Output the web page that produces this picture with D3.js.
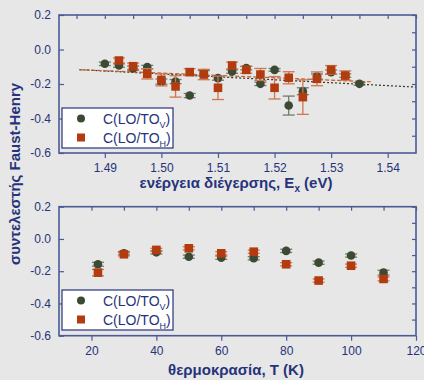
<!DOCTYPE html>
<html>
<head>
<meta charset="utf-8">
<script src="https://cdn.jsdelivr.net/npm/d3@7"></script>
<style>
  body { margin: 0; background: #e7e7e7; }
  svg { display: block; font-family: "Liberation Sans", Arial, sans-serif; }
</style>
</head>
<body>
<div id="chart"></div>
<script>
// top panel: Faust-Henry coefficient vs excitation energy
const energyV = [1.490, 1.4925, 1.495, 1.4975, 1.500, 1.5025, 1.505, 1.5075, 1.510, 1.5125, 1.515, 1.5175, 1.520, 1.5225, 1.525, 1.5275, 1.530, 1.5325, 1.535];
const coefV = [-0.083, -0.093, -0.108, -0.102, -0.186, -0.186, -0.267, -0.137, -0.166, -0.128, -0.108, -0.199, -0.118, -0.325, -0.242, -0.157, -0.131, -0.151, -0.199];
const errV = [0.01, 0.01, 0.012, 0.01, 0.015, 0.012, 0.012, 0.015, 0.012, 0.01, 0.01, 0.01, 0.008, 0.055, 0.02, 0.015, 0.012, 0.01, 0.008];

const energyH = [1.4925, 1.495, 1.4975, 1.500, 1.5025, 1.505, 1.5075, 1.510, 1.5125, 1.515, 1.5175, 1.520, 1.5225, 1.525, 1.5275, 1.530, 1.5325];
const coefH = [-0.064, -0.097, -0.141, -0.176, -0.214, -0.131, -0.145, -0.222, -0.093, -0.118, -0.145, -0.222, -0.164, -0.276, -0.170, -0.118, -0.151];
const errH = [0.015, 0.018, 0.03, 0.035, 0.062, 0.02, 0.03, 0.068, 0.02, 0.02, 0.035, 0.065, 0.035, 0.1, 0.04, 0.025, 0.027];

// linear fit lines (end points)
const fitV = [[1.4855, -0.117], [1.545, -0.218]];
const fitH = [[1.4855, -0.117], [1.537, -0.187]];

// bottom panel: coefficient vs temperature
const temps = [22, 30, 40, 50, 60, 70, 80, 90, 100, 110];
const coefVT = [-0.157, -0.089, -0.083, -0.110, -0.116, -0.120, -0.074, -0.147, -0.103, -0.209];
const coefHT = [-0.209, -0.095, -0.068, -0.058, -0.089, -0.079, -0.157, -0.258, -0.166, -0.248];
const errVT = [0.012, 0.01, 0.01, 0.01, 0.01, 0.01, 0.01, 0.01, 0.01, 0.015];
const errHT = [0.02, 0.01, 0.01, 0.01, 0.01, 0.01, 0.01, 0.01, 0.01, 0.012];

const yTicks = [0.2, 0.0, -0.2, -0.4, -0.6];
const energyTicks = [1.49, 1.50, 1.51, 1.52, 1.53, 1.54];
const tempTicks = [20, 40, 60, 80, 100, 120];

const navy = "#26337a";
const axisCol = "#4a5a96";
const green = "#3b4a33";
const red = "#b23c0f";

const W = 424, H = 380;
const svg = d3.select("#chart").append("svg").attr("width", W).attr("height", H);

svg.append("rect").attr("width", W).attr("height", H).attr("fill", "#e7e7e7");

const left = 59, right = 416;

function panel(opts) {
  const x = d3.scaleLinear().domain(opts.xDomain).range([left, right]);
  const y = d3.scaleLinear().domain([-0.6, 0.2]).range([opts.bottom, opts.top]);
  const g = svg.append("g");

  // fit lines
  (opts.fits || []).forEach(f => {
    g.append("path")
      .attr("d", d3.line().x(d => x(d[0])).y(d => y(d[1]))(f.pts))
      .attr("stroke", f.color).attr("stroke-width", 1.2)
      .attr("stroke-dasharray", f.dash).attr("fill", "none");
  });

  // frame
  g.append("rect")
    .attr("x", left).attr("y", opts.top)
    .attr("width", right - left).attr("height", opts.bottom - opts.top)
    .attr("fill", "none").attr("stroke", axisCol).attr("stroke-width", 1.6);

  // bottom axis (outward ticks)
  const bx = g.append("g").attr("transform", `translate(0,${opts.bottom})`);
  bx.call(d3.axisBottom(x).tickValues(opts.minorX).tickSize(3).tickFormat(""));
  bx.call(d3.axisBottom(x).tickValues(opts.xTicks).tickSize(5).tickFormat(opts.fmt));
  bx.select(".domain").remove();
  bx.selectAll("line").attr("stroke", axisCol).attr("stroke-width", 1.2);
  bx.selectAll("text").attr("fill", navy).attr("font-size", 12).attr("dy", "0.95em");

  // top axis (inward ticks)
  const tx = g.append("g").attr("transform", `translate(0,${opts.top})`);
  tx.call(d3.axisBottom(x).tickValues(opts.minorX.concat(opts.xTicks)).tickSize(4).tickFormat(""));
  tx.select(".domain").remove();
  tx.selectAll("line").attr("stroke", axisCol).attr("stroke-width", 1.2);

  // left axis (inward ticks)
  const ly = g.append("g").attr("transform", `translate(${left},0)`);
  ly.call(d3.axisRight(y).tickValues([0.1, -0.1, -0.3, -0.5]).tickSize(3).tickFormat(""));
  ly.call(d3.axisRight(y).tickValues(yTicks).tickSize(5).tickFormat(""));
  ly.select(".domain").remove();
  ly.selectAll("line").attr("stroke", axisCol).attr("stroke-width", 1.2);
  ly.selectAll(".lbl").data(yTicks).enter().append("text")
    .attr("class", "lbl")
    .attr("x", -8).attr("y", d => y(d)).attr("dy", "0.35em")
    .attr("text-anchor", "end").attr("font-size", 12).attr("fill", navy)
    .text(d => d3.format(".1f")(d).replace("−", "-"));

  // right axis (inward ticks)
  const ry = g.append("g").attr("transform", `translate(${right},0)`);
  ry.call(d3.axisLeft(y).tickValues(d3.range(-0.5, 0.21, 0.1)).tickSize(4).tickFormat(""));
  ry.select(".domain").remove();
  ry.selectAll("line").attr("stroke", axisCol).attr("stroke-width", 1.2);

  // series
  opts.series.forEach(s => {
    const pts = s.xs.map((v, i) => ({ x: v, y: s.ys[i], e: s.err[i] }));
    const eb = g.append("g").attr("stroke", s.barColor).attr("stroke-width", 1.3);
    eb.selectAll(".v").data(pts).enter().append("line")
      .attr("x1", d => x(d.x)).attr("x2", d => x(d.x))
      .attr("y1", d => y(d.y + d.e)).attr("y2", d => y(d.y - d.e));
    eb.selectAll(".c1").data(pts).enter().append("line")
      .attr("x1", d => x(d.x) - 6).attr("x2", d => x(d.x) + 6)
      .attr("y1", d => y(d.y + d.e)).attr("y2", d => y(d.y + d.e));
    eb.selectAll(".c2").data(pts).enter().append("line")
      .attr("x1", d => x(d.x) - 6).attr("x2", d => x(d.x) + 6)
      .attr("y1", d => y(d.y - d.e)).attr("y2", d => y(d.y - d.e));
    if (s.shape === "circle") {
      g.selectAll(null).data(pts).enter().append("circle")
        .attr("cx", d => x(d.x)).attr("cy", d => y(d.y)).attr("r", 4.3)
        .attr("fill", s.color);
    } else {
      g.selectAll(null).data(pts).enter().append("rect")
        .attr("x", d => x(d.x) - 4.3).attr("y", d => y(d.y) - 4.3)
        .attr("width", 8.6).attr("height", 8.6)
        .attr("fill", s.color);
    }
  });

  // legend
  const lg = g.append("g");
  lg.append("rect")
    .attr("x", 62).attr("y", opts.legendY)
    .attr("width", 111).attr("height", 40)
    .attr("fill", "#ffffff").attr("stroke", navy).attr("stroke-width", 1.2);
  lg.append("circle").attr("cx", 81).attr("cy", opts.legendY + 10.5).attr("r", 4).attr("fill", green);
  lg.append("rect").attr("x", 77).attr("y", opts.legendY + 25.5).attr("width", 8).attr("height", 8).attr("fill", red);
  [["C(LO/TO", "V", ")"], ["C(LO/TO", "H", ")"]].forEach((t, i) => {
    const tt = lg.append("text")
      .attr("x", 103).attr("y", opts.legendY + 15.5 + i * 19)
      .attr("font-size", 14).attr("fill", navy);
    tt.append("tspan").text(t[0]);
    tt.append("tspan").attr("font-size", 9).attr("dy", 4).text(t[1]);
    tt.append("tspan").attr("dy", -4).text(t[2]);
  });

  // x axis title
  const xt = svg.append("text")
    .attr("x", 236).attr("y", opts.titleY)
    .attr("text-anchor", "middle").attr("font-size", 15).attr("font-weight", "bold")
    .attr("fill", navy);
  opts.title(xt);
}

panel({
  top: 15, bottom: 153,
  xDomain: [1.4819, 1.545],
  xTicks: energyTicks,
  minorX: [1.485, 1.495, 1.505, 1.515, 1.525, 1.535, 1.545],
  fmt: d3.format(".2f"),
  legendY: 108,
  titleY: 188,
  fits: [
    { pts: fitV, color: "#2f3a2a", dash: "2,2" },
    { pts: fitH, color: "#c0602a", dash: "4,2" }
  ],
  series: [
    { xs: energyV, ys: coefV, err: errV, shape: "circle", color: green, barColor: "#6f7d6a" },
    { xs: energyH, ys: coefH, err: errH, shape: "square", color: red, barColor: "#cf7550" }
  ],
  title: t => {
    t.append("tspan").text("ενέργεια διέγερσης, E");
    t.append("tspan").attr("font-size", 10).attr("dy", 4).text("x");
    t.append("tspan").attr("dy", -4).text(" (eV)");
  }
});

panel({
  top: 206.7, bottom: 335.7,
  xDomain: [10, 120],
  xTicks: tempTicks,
  minorX: [30, 50, 70, 90, 110],
  fmt: d3.format("d"),
  legendY: 290,
  titleY: 375,
  series: [
    { xs: temps, ys: coefVT, err: errVT, shape: "circle", color: green, barColor: "#6f7d6a" },
    { xs: temps, ys: coefHT, err: errHT, shape: "square", color: red, barColor: "#cf7550" }
  ],
  title: t => t.text("θερμοκρασία, T (K)")
});

// shared y axis title
svg.append("text")
  .attr("transform", "translate(20,174) rotate(-90)")
  .attr("text-anchor", "middle").attr("font-size", 15).attr("font-weight", "bold")
  .attr("fill", navy)
  .text("συντελεστής Faust-Henry");
</script>
</body>
</html>
